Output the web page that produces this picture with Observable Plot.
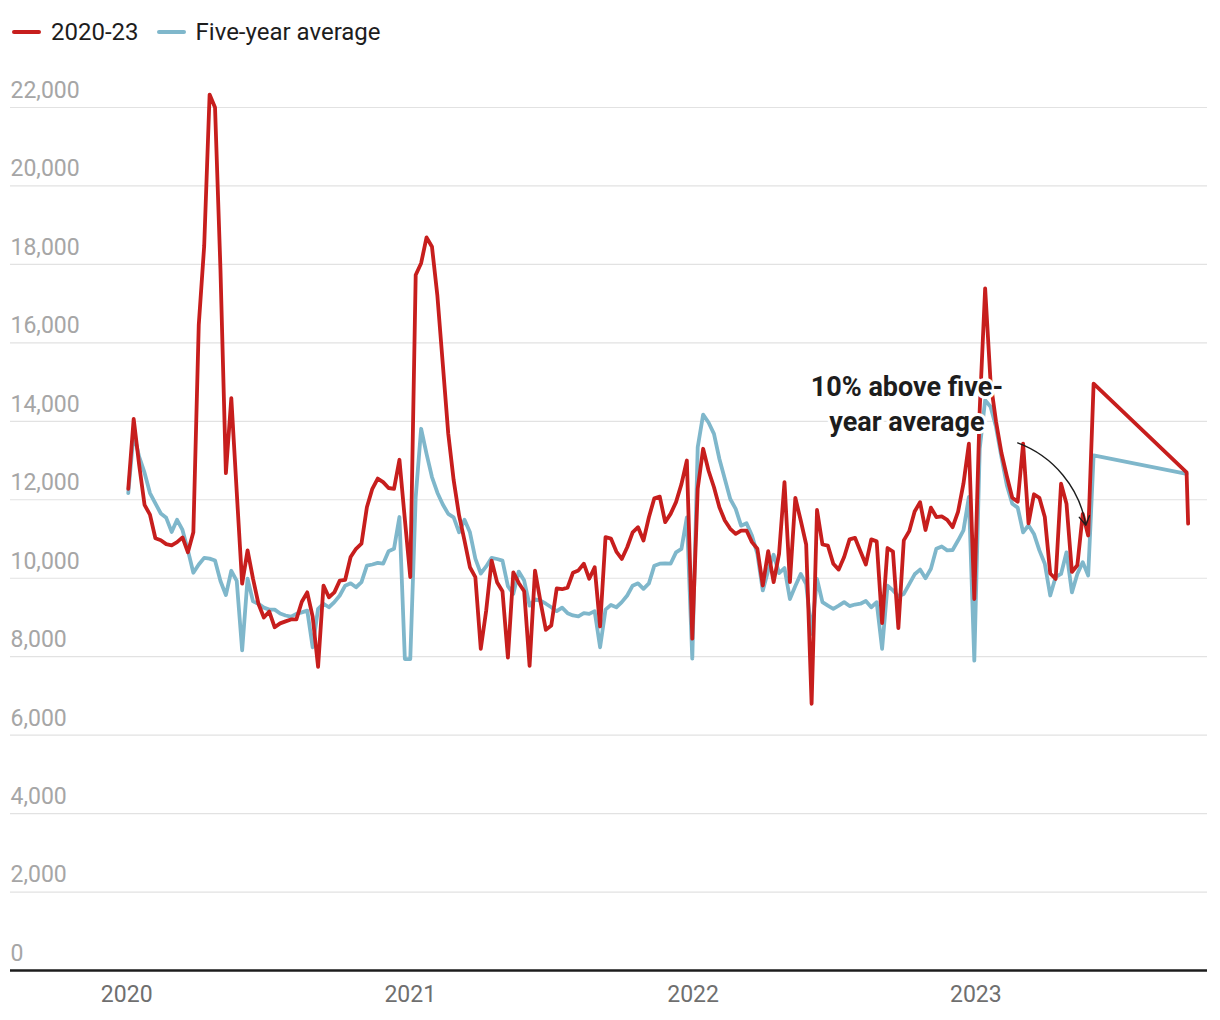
<!DOCTYPE html>
<html>
<head>
<meta charset="utf-8">
<script src="https://cdn.jsdelivr.net/npm/d3@7"></script>
<script src="https://cdn.jsdelivr.net/npm/@observablehq/plot@0.6"></script>
<style>
  html, body { margin: 0; padding: 0; background: #fff; }
  body { width: 1220px; height: 1020px; font-family: Roboto, "Noto Sans", sans-serif; }
  #legend { height: 60px; display: flex; align-items: center; padding-left: 12px; box-sizing: border-box; padding-top: 4px; }
  .item { display: flex; align-items: center; margin-right: 18px; font-size: 24px; color: #1d1d1d; }
  .swatch { width: 29px; height: 4px; border-radius: 2px; margin-right: 10px; }
  svg { display: block; }
</style>
</head>
<body>
<div id="legend"></div>
<div id="chart"></div>
<script>
// ---- data ----
const seriesNames = ["2020-23", "Five-year average"];
const seriesColors = ["#c71e1d", "#7fb7cb"];
const startWeek = "2020-01-03"; // first weekly observation, one point every 7 days
const deaths = [
  12280, 14060, 12900, 11870, 11620, 11020, 10970, 10870, 10840, 10920,
  11040, 10660, 11170, 16460, 18470, 22330, 22000, 17870, 12680, 14590,
  12200, 9860, 10710, 9990, 9350, 9000, 9150, 8750, 8850, 8900,
  8950, 8950, 9400, 9640, 9020, 7740, 9810, 9515, 9640, 9940,
  9960, 10540, 10750, 10880, 11810, 12280, 12540, 12450, 12300, 12280,
  13020, 11500, 10030, 17730, 18030, 18690, 18450, 17200, 15450, 13690,
  12500, 11600, 10960, 10280, 10030, 8200, 9180, 10450, 9900, 9670,
  7975, 10150, 9880, 9670, 7765, 10195, 9410, 8685, 8795, 9740,
  9720, 9760, 10140, 10200, 10370, 9985, 10280, 8770, 11050, 11010,
  10680, 10490, 10790, 11170, 11300, 10960, 11555, 12040, 12080, 11430,
  11640, 11940, 12400, 13000, 8460, 12280, 13300, 12740, 12320, 11810,
  11470, 11260, 11130, 11215, 11215, 10920, 10750, 9815, 10690, 9900,
  10620, 12450, 9900, 12050, 11470, 10860, 6800, 11740, 10860, 10830,
  10370, 10220, 10540, 10990, 11030, 10690, 10350, 10990, 10940, 8855,
  10770, 10680, 8730, 10965, 11200, 11700, 11940, 11230, 11800, 11560,
  11575, 11490, 11300, 11690, 12410, 13430, 9470, 14300, 17390, 15000,
  14000, 13200, 12600, 12050, 11950, 13430, 11400, 12140, 12050, 11560,
  10120, 9980, 12410, 11900, 10160, 10330, 11640, 11090, 14960
];
const fiveYearAverage = [
  12170, 13700, 13100, 12690, 12170, 11910, 11650, 11540, 11180, 11490,
  11230, 10710, 10140, 10350, 10520, 10500, 10450, 9930, 9570, 10190,
  9930, 8160, 9990, 9410, 9350, 9250, 9200, 9200, 9100, 9050,
  9020, 9090, 9130, 9175, 8240, 9220, 9350, 9260, 9390, 9560,
  9810, 9870, 9770, 9900, 10320, 10350, 10390, 10370, 10690, 10750,
  11560, 7940, 7940, 12070, 13810, 13170, 12580, 12180, 11880, 11640,
  11550, 11170, 11490, 11170, 10500, 10120, 10300, 10520, 10490, 10450,
  9800, 9600, 10170, 9940, 9300, 9460, 9430, 9350, 9260, 9160,
  9250, 9110, 9050, 9030, 9110, 9090, 9160, 8240, 9200, 9320,
  9260, 9390, 9560, 9810, 9870, 9730, 9870, 10320, 10370, 10380,
  10370, 10660, 10750, 11550, 7950, 13340, 14170, 13970, 13680, 13040,
  12530, 12020, 11770, 11340, 11400, 11090, 10620, 9690, 10200, 10600,
  10130, 10260, 9470, 9800, 10110, 9850, 8580, 9980, 9390, 9300,
  9220, 9300, 9390, 9290, 9330, 9350, 9420, 9260, 9390, 8200,
  9810, 9690, 9540, 9600, 9850, 10100, 10220, 10000, 10240, 10750,
  10810, 10710, 10720, 10960, 11220, 12070, 7900, 13300, 14540, 14370,
  13860, 13090, 12370, 11900, 11800, 11170, 11350, 11130, 10710, 10370,
  9560, 10030, 10110, 10660, 9640, 10110, 10410, 10070, 13130
];
// last points after the gap in weekly data
const lateDates = ["2023-09-30", "2023-10-02"];
const lateDeaths = [12700, 11390];
const lateAverage = [12660];
const yTicks = [0, 2000, 4000, 6000, 8000, 10000, 12000, 14000, 16000, 18000, 20000, 22000];
const xTickLabels = ["2020", "2021", "2022", "2023"];
const xDomain = ["2019-08-04", "2023-10-27"];
const annotation = {text: "10% above five-\nyear average", x: "2022-10-04", y: 14480,
  arrowFrom: {x: "2023-02-24", y: 13450}, arrowTo: {x: "2023-05-23", y: 11350}};

// ---- build rows ----
const start = new Date(startWeek + "T00:00:00Z");
const weekDate = i => d3.utcDay.offset(start, 7 * i);
const redRows = deaths.map((v, i) => ({date: weekDate(i), value: v}))
  .concat(lateDates.map((d, i) => ({date: new Date(d + "T00:00:00Z"), value: lateDeaths[i]})));
const blueRows = fiveYearAverage.map((v, i) => ({date: weekDate(i), value: v}))
  .concat(lateAverage.map((v, i) => ({date: new Date(lateDates[i] + "T00:00:00Z"), value: v})));
const toDate = s => new Date(s + "T00:00:00Z");

// ---- legend ----
const legend = document.getElementById("legend");
seriesNames.forEach((name, i) => {
  const item = document.createElement("div");
  item.className = "item";
  const sw = document.createElement("span");
  sw.className = "swatch";
  sw.style.background = seriesColors[i];
  const label = document.createElement("span");
  label.textContent = name;
  item.appendChild(sw); item.appendChild(label);
  legend.appendChild(item);
});

const fmt = d3.format(",");

const chart = Plot.plot({
  width: 1220,
  height: 960,
  marginLeft: 10,
  marginRight: 13,
  marginTop: 47,
  marginBottom: 50,
  style: {fontFamily: "Roboto, sans-serif", background: "#fff"},
  x: {type: "utc", domain: xDomain.map(toDate)},
  y: {domain: [0, 22000], axis: null},
  marks: [
    Plot.ruleY(yTicks.filter(d => d > 0), {stroke: "#e2e2e2", strokeWidth: 1.2}),
    Plot.text(yTicks, {y: d => d, frameAnchor: "left", text: d => fmt(d), textAnchor: "start",
      dy: -17, fontSize: 23, fill: "#a6a6a6"}),
    Plot.axisX({ticks: xTickLabels.map(y => toDate(y + "-01-01")), tickFormat: d3.utcFormat("%Y"),
      tickSize: 0, tickPadding: 15, fontSize: 23, fill: "#6f6f6f", label: null}),
    Plot.line(blueRows, {x: "date", y: "value", stroke: seriesColors[1], strokeWidth: 3.8}),
    Plot.line(redRows, {x: "date", y: "value", stroke: seriesColors[0], strokeWidth: 3.8}),
    Plot.ruleY([0], {stroke: "#1d1d1d", strokeWidth: 2.5}),
    Plot.arrow([annotation], {
      x1: d => toDate(d.arrowFrom.x), y1: d => d.arrowFrom.y,
      x2: d => toDate(d.arrowTo.x), y2: d => d.arrowTo.y,
      bend: 30, stroke: "#1d1d1d", strokeWidth: 1.4, headLength: 11
    }),
    Plot.text([annotation], {x: d => toDate(d.x), y: "y", text: "text", fontSize: 27, fontWeight: "bold",
      fill: "#1d1d1d", stroke: "white", strokeWidth: 6, lineHeight: 1.27, textAnchor: "middle"})
  ]
});
document.getElementById("chart").appendChild(chart);
</script>
</body>
</html>
